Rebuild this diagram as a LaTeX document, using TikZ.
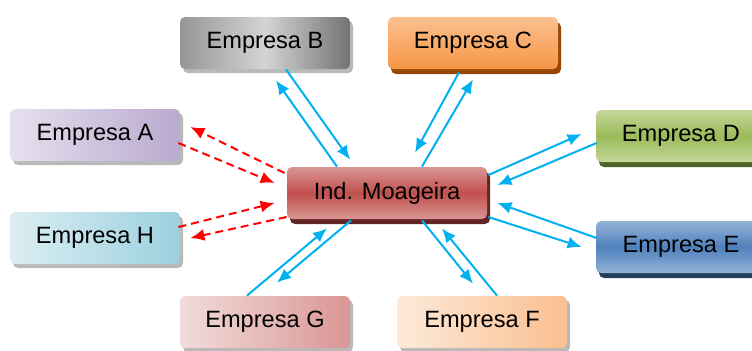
\documentclass[tikz,border=0pt]{standalone}
\usepackage{fontspec}
\setmainfont{Liberation Sans}
\usetikzlibrary{arrows.meta, shadows}

\definecolor{linkblue}{RGB}{0,176,240}
\definecolor{linkred}{RGB}{255,0,0}
\definecolor{moaLight}{RGB}{218,150,148}
\definecolor{moaMid}{RGB}{192,80,77}
\definecolor{moaDark}{RGB}{99,37,35}
\definecolor{greyLeft}{RGB}{150,150,150}
\definecolor{greyMid}{RGB}{212,212,212}
\definecolor{greyRight}{RGB}{115,115,115}
\definecolor{orangeLight}{RGB}{250,192,143}
\definecolor{orangeMid}{RGB}{247,150,70}
\definecolor{orangeDark}{RGB}{152,72,6}
\definecolor{lilacLight}{RGB}{230,224,238}
\definecolor{lilacMid}{RGB}{185,170,207}
\definecolor{cyanLight}{RGB}{220,238,243}
\definecolor{cyanMid}{RGB}{155,208,222}
\definecolor{greenLight}{RGB}{196,215,155}
\definecolor{greenMid}{RGB}{155,187,89}
\definecolor{greenDark}{RGB}{79,98,40}
\definecolor{blueLight}{RGB}{149,179,215}
\definecolor{blueMid}{RGB}{79,129,189}
\definecolor{blueDark}{RGB}{36,64,97}
\definecolor{peachLight}{RGB}{253,234,218}
\definecolor{peachMid}{RGB}{250,191,143}
\definecolor{pinkLight}{RGB}{242,220,219}
\definecolor{pinkMid}{RGB}{217,150,148}

\begin{document}
\begin{tikzpicture}[x=0.5pt, y=-0.5pt, >={Latex[length=7pt,width=6pt]},
    firm/.style={rounded corners=2.5pt, minimum width=85pt, minimum height=26pt,
      inner sep=0pt, font=\fontsize{11.8}{14}\selectfont, shading=axis},
    greyshadow/.style={general shadow={fill=gray!55, shadow xshift=1.5pt, shadow yshift=-2pt}},
    solidshadow/.style={general shadow={fill=#1, shadow xshift=1.5pt, shadow yshift=-2.5pt}},
    flow/.style={draw=linkblue, line width=1pt},
    weak/.style={draw=linkred, line width=1pt, dash pattern=on 4pt off 2.5pt}]
  \clip (0,0) rectangle (752,350);
  \useasboundingbox (0,0) rectangle (752,350);

  % centro
  \node[firm, solidshadow=moaDark, top color=moaLight, bottom color=moaLight,
    middle color=moaMid, minimum width=100pt] (m) at (387,193) {Ind. Moageira};

  % empresas
  \node[firm, greyshadow, left color=greyLeft, right color=greyRight, middle color=greyMid] (b) at (265,43) {Empresa B};
  \node[firm, solidshadow=orangeDark, top color=orangeLight, bottom color=orangeMid] (c) at (473,43) {Empresa C};
  \node[firm, greyshadow, left color=lilacLight, right color=lilacMid] (a) at (95,135) {Empresa A};
  \node[firm, greyshadow, left color=cyanLight, right color=cyanMid] (h) at (95,238) {Empresa H};
  \node[firm, solidshadow=greenDark, top color=greenLight, bottom color=greenLight,
    middle color=greenMid] (d) at (681,136) {Empresa D};
  \node[firm, solidshadow=blueDark, top color=blueLight, bottom color=blueLight,
    middle color=blueMid] (e) at (681,247) {Empresa E};
  \node[firm, greyshadow, left color=peachLight, right color=peachMid] (f) at (482,322) {Empresa F};
  \node[firm, greyshadow, left color=pinkLight, right color=pinkMid] (g) at (265,322) {Empresa G};

  % ligacoes
  \draw[flow,->] ([shift={(21,0)}]b.south) -- ([shift={(-37,-7)}]m.north);
  \draw[flow,->] ([shift={(-50,0)}]m.north) -- ([shift={(11,11)}]b.south);
  \draw[flow,->] ([shift={(-14,3)}]c.south) -- ([shift={(28,-14)}]m.north);
  \draw[flow,->] ([shift={(35,0)}]m.north) -- ([shift={(0,10)}]c.south);
  \draw[flow,->] ([shift={(1,-18)}]m.east) -- ([shift={(-14,-2)}]d.west);
  \draw[flow,->] ([shift={(1,7)}]d.west) -- ([shift={(10,-8)}]m.east);
  \draw[flow,->] ([shift={(1,-9)}]e.west) -- ([shift={(10,10)}]m.east);
  \draw[flow,->] ([shift={(1,24)}]m.east) -- ([shift={(-14,0)}]e.west);
  \draw[flow,->] ([shift={(35,1)}]m.south) -- ([shift={(-9,-12)}]f.north);
  \draw[flow,->] ([shift={(15,0)}]f.north) -- ([shift={(55,9)}]m.south);
  \draw[flow,->] ([shift={(-18,0)}]g.north) -- ([shift={(-60,9)}]m.south);
  \draw[flow,->] ([shift={(-36,1)}]m.south) -- ([shift={(12,-13)}]g.north);
  \draw[weak,->] ([shift={(-2,-20)}]m.west) -- ([shift={(10,-8)}]a.east);
  \draw[weak,->] ([shift={(-2,8)}]a.east) -- ([shift={(-12,-10)}]m.west);
  \draw[weak,->] ([shift={(-2,-11)}]h.east) -- ([shift={(-12,10)}]m.west);
  \draw[weak,->] ([shift={(0,24)}]m.west) -- ([shift={(10,0)}]h.east);
\end{tikzpicture}
\end{document}
